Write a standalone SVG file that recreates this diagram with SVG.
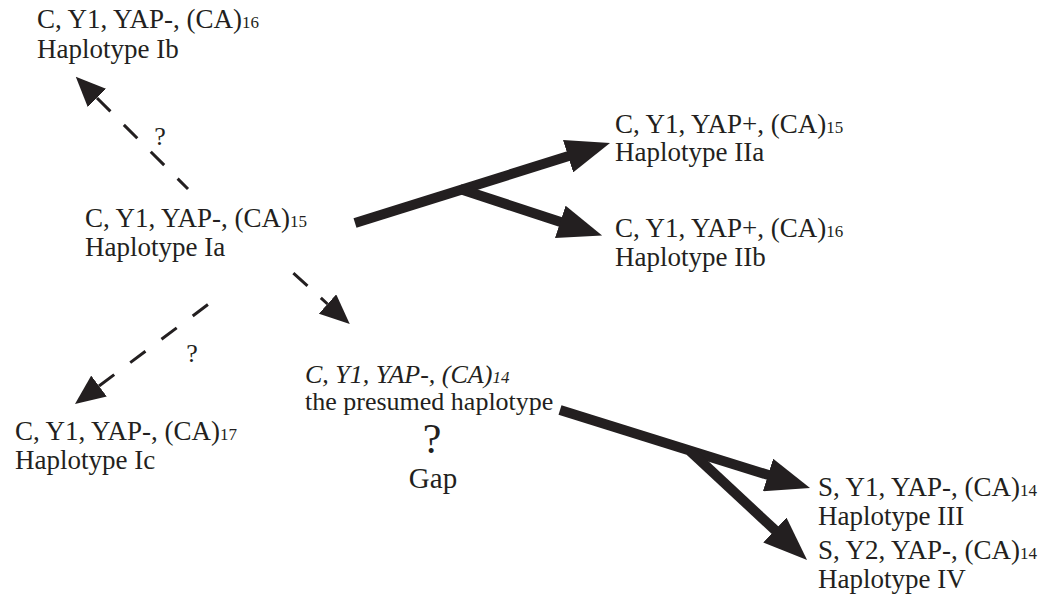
<svg xmlns="http://www.w3.org/2000/svg" width="1055" height="600" viewBox="0 0 1055 600">
<style>
  text { font-family: "Liberation Serif", "Times New Roman", serif; fill: #231f20; }
  .t { font-size: 27px; }
  .p { font-size: 26px; }
  .s { font-size: 17px; }
  .it { font-style: italic; }
  .q { font-size: 26px; }
  .thick { stroke: #231f20; stroke-width: 10; fill: none; }
  .dash { stroke: #231f20; stroke-width: 3; fill: none; }
</style>
<defs>
  <marker id="bigHead" markerUnits="userSpaceOnUse" markerWidth="44" markerHeight="34" viewBox="0 0 44 34" refX="14" refY="17" orient="auto">
    <path d="M0,0 L44,17 L0,34 z" fill="#231f20"/>
  </marker>
  <marker id="smallHead" markerUnits="userSpaceOnUse" markerWidth="30" markerHeight="26" viewBox="0 0 30 26" refX="0" refY="13" orient="auto-start-reverse">
    <path d="M0,0 L30,13 L0,26 z" fill="#231f20"/>
  </marker>
</defs>
<rect width="1055" height="600" fill="#ffffff"/>

<g id="connectors">
  <path class="thick" d="M355,223 L581.4,152" marker-end="url(#bigHead)"/>
  <path class="thick" d="M460,189 L573.6,226.2" marker-end="url(#bigHead)"/>
  <path class="thick" d="M560,410 L781.4,479.1" marker-end="url(#bigHead)"/>
  <path class="thick" d="M690,451 L785.1,539.5" marker-end="url(#bigHead)"/>
  <path class="dash" d="M97,98 L188,189" stroke-dasharray="19 19" marker-start="url(#smallHead)"/>
  <path class="dash" d="M327.5,304 L291,271" stroke-dasharray="19 18" stroke-dashoffset="10" marker-start="url(#smallHead)"/>
  <path class="dash" d="M99,386 L210,303" stroke-dasharray="19 20" marker-start="url(#smallHead)"/>
  <text class="q" x="160" y="145" text-anchor="middle">?</text>
  <text class="q" x="192" y="362" text-anchor="middle">?</text>
</g>

<g id="node-Ib">
  <text class="t" x="37" y="28">C, Y1, YAP-, (CA)<tspan class="s">16</tspan></text>
  <text class="t" x="37" y="58">Haplotype Ib</text>
</g>
<g id="node-Ia">
  <text class="t" x="85" y="227">C, Y1, YAP-, (CA)<tspan class="s">15</tspan></text>
  <text class="t" x="85" y="256">Haplotype Ia</text>
</g>
<g id="node-Ic">
  <text class="t" x="15" y="440">C, Y1, YAP-, (CA)<tspan class="s">17</tspan></text>
  <text class="t" x="15" y="469">Haplotype Ic</text>
</g>
<g id="node-IIa">
  <text class="t" x="615" y="133">C, Y1, YAP+, (CA)<tspan class="s">15</tspan></text>
  <text class="t" x="615" y="161">Haplotype IIa</text>
</g>
<g id="node-IIb">
  <text class="t" x="615" y="237">C, Y1, YAP+, (CA)<tspan class="s">16</tspan></text>
  <text class="t" x="615" y="266">Haplotype IIb</text>
</g>
<g id="node-presumed">
  <text class="p it" x="305" y="383">C, Y1, YAP-, (CA)<tspan class="s">14</tspan></text>
  <text class="p" x="305" y="410">the presumed haplotype</text>
  <text x="432" y="453" text-anchor="middle" font-size="42">?</text>
  <text x="433" y="488" text-anchor="middle" font-size="29">Gap</text>
</g>
<g id="node-III">
  <text class="t" x="818" y="496">S, Y1, YAP-, (CA)<tspan class="s">14</tspan></text>
  <text class="t" x="818" y="525">Haplotype III</text>
</g>
<g id="node-IV">
  <text class="t" x="818" y="559">S, Y2, YAP-, (CA)<tspan class="s">14</tspan></text>
  <text class="t" x="818" y="588">Haplotype IV</text>
</g>
</svg>
